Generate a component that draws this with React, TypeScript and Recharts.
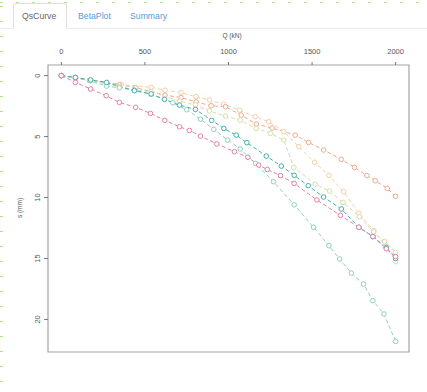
import { LineChart, Line, XAxis, YAxis, ReferenceArea } from 'recharts'

// load steps (kN) and settlements (mm) per test pile
const qPink = [0, 84, 175, 268, 347, 445, 533, 619, 707, 766, 832, 930, 1036, 1116, 1181, 1232, 1311, 1393, 1529, 1669, 1780, 1864, 1944, 2000]
const sPink = [0, 0.56, 1.1, 1.65, 2.2, 2.6, 3.1, 3.67, 4.2, 4.5, 4.96, 5.6, 6.24, 6.7, 7.34, 7.7, 8.2, 8.84, 10.2, 11.46, 12.44, 13.2, 14.2, 14.85]

const qTeal = [0, 84, 175, 271, 437, 537, 617, 707, 802, 900, 972, 1046, 1110, 1226, 1316, 1393, 1477, 1569, 1675, 1780, 1864, 1944, 2000]
const sTeal = [0, 0.15, 0.35, 0.56, 1.24, 1.5, 1.95, 2.42, 2.77, 3.67, 4.33, 4.88, 5.5, 6.6, 7.42, 8.18, 9.03, 9.96, 10.94, 12.44, 13.2, 14.1, 15.0]

const qMint = [0, 84, 168, 271, 347, 437, 537, 667, 750, 832, 912, 996, 1070, 1162, 1269, 1393, 1509, 1601, 1665, 1735, 1808, 1864, 1930, 2000]
const sMint = [0, 0.15, 0.42, 0.86, 1.0, 1.2, 1.54, 2.23, 2.8, 3.57, 4.41, 5.29, 6.02, 7.2, 8.7, 10.6, 12.44, 13.95, 15.04, 16.2, 17.1, 18.46, 19.55, 21.8]

const qLime = [0, 84, 175, 347, 437, 537, 707, 802, 886, 982, 1070, 1166, 1251, 1331, 1391, 1519, 1605, 1685, 1784, 1868, 1934, 2000]
const sLime = [0, 0.2, 0.4, 0.9, 1.2, 1.3, 2.1, 2.4, 2.9, 3.32, 3.65, 4.33, 4.74, 5.29, 7.53, 8.9, 9.47, 10.4, 11.57, 12.83, 13.6, 14.5]

const qSalmon = [0, 84, 175, 347, 445, 620, 716, 806, 896, 982, 1076, 1166, 1261, 1399, 1479, 1569, 1675, 1754, 1828, 1878, 1950, 2000]
const sSalmon = [0, 0.2, 0.4, 0.75, 1.0, 1.6, 1.8, 2.15, 2.47, 2.55, 3.24, 3.97, 4.3, 4.88, 5.48, 6.1, 6.87, 7.53, 8.2, 8.62, 9.25, 9.9]

const qPeach = [0, 84, 175, 357, 537, 620, 716, 806, 886, 970, 1066, 1160, 1241, 1331, 1421, 1515, 1601, 1689, 1780, 1870, 1940, 2000]
const sPeach = [0, 0.15, 0.35, 0.72, 0.97, 1.2, 1.4, 1.73, 2.0, 2.34, 2.83, 3.37, 3.78, 4.6, 5.83, 7.11, 8.18, 9.52, 11.3, 12.72, 14.0, 15.26]

const xTicks = [0, 500, 1000, 1500, 2000]
const yTicks = [0, 5, 10, 15, 20]
const tabs = ['QsCurve', 'BetaPlot', 'Summary']

const zip = (q: number[], s: number[]) => q.map((v, i) => ({ q: v, s: s[i] }))

const series = [
  { name: 'peach', data: zip(qPeach, sPeach), color: '#f4d0a6' },
  { name: 'salmon', data: zip(qSalmon, sSalmon), color: '#f0aa8e' },
  { name: 'lime', data: zip(qLime, sLime), color: '#d6dea6' },
  { name: 'mint', data: zip(qMint, sMint), color: '#8dd2bc' },
  { name: 'teal', data: zip(qTeal, sTeal), color: '#43b1b0' },
  { name: 'pink', data: zip(qPink, sPink), color: '#e282a4' },
]

const font = '"Liberation Sans", Arial, sans-serif'

const XTick = ({ x, y, payload }: any) => (
  <text x={x} y={y} textAnchor="middle" fontSize={7.5} fill="#555" fontFamily={font}>
    {payload.value}
  </text>
)

const YTick = ({ x, y, payload }: any) => (
  <text transform={`translate(${x},${y}) rotate(-90)`} textAnchor="middle" fontSize={7.5} fill="#555" fontFamily={font}>
    {payload.value}
  </text>
)

export default function App() {
  return (
    <div style={{ position: 'fixed', left: 0, top: 0, width: 427, height: 392, background: '#fff', overflow: 'hidden', fontFamily: font }}>
      <div style={{ position: 'absolute', left: 0, top: 2, width: 427, height: 1,
        background: 'repeating-linear-gradient(90deg, #b0e48a 0 3px, transparent 3px 16px)' }} />
      <div style={{ position: 'absolute', left: 0, top: 6, width: 3, height: 386,
        background: 'repeating-linear-gradient(180deg, #b0e48a 0 1px, transparent 1px 15px)' }} />

      {/* nav tabs */}
      <div style={{ position: 'absolute', left: 0, top: 28, width: 427, height: 1, background: '#ececec' }} />
      <div style={{ position: 'absolute', left: 13, top: 3, width: 52, height: 25, background: '#fff',
        border: '1px solid #e0e0e0', borderBottom: 'none', borderRadius: '3px 3px 0 0' }} />
      {tabs.map((t, i) => (
        <div key={t} style={{ position: 'absolute', top: 11, left: [22, 78, 130][i], fontSize: 8.7,
          color: i === 0 ? '#666' : '#5a9bd0' }}>{t}</div>
      ))}

      <div style={{ position: 'absolute', left: 212, top: 32, width: 40, textAlign: 'center', fontSize: 6.5, color: '#555' }}>
        Q (kN)
      </div>
      <div style={{ position: 'absolute', left: 19, top: 208, fontSize: 6.5, color: '#555',
        transform: 'translate(-50%, -50%) rotate(-90deg)', whiteSpace: 'nowrap' }}>
        s (mm)
      </div>

      <div style={{ position: 'absolute', left: 0, top: 0 }}>
        <LineChart width={427} height={392} margin={{ top: 45, left: 18, right: 18, bottom: 40 }}>
          <XAxis dataKey="q" type="number" orientation="top" domain={[-80, 2080]} ticks={xTicks}
            allowDataOverflow height={20} axisLine={false} tickSize={3} tickMargin={8}
            tickLine={{ stroke: '#777' }} tick={<XTick />} />
          <YAxis type="number" reversed domain={[-0.87, 22.67]} ticks={yTicks} allowDataOverflow
            width={30} axisLine={false} tickSize={4} tickMargin={4}
            tickLine={{ stroke: '#777' }} tick={<YTick />} />
          <ReferenceArea x1={-80} x2={2080} y1={-0.87} y2={22.67} fill="none" stroke="#a5a5a5" strokeWidth={1.2} ifOverflow="visible" />
          {series.map((sr) => (
            <Line key={sr.name} data={sr.data} dataKey="s" type="linear" stroke={sr.color} strokeWidth={1}
              strokeDasharray="4 2.5" isAnimationActive={false}
              dot={{ r: 2.3, stroke: sr.color, strokeWidth: 1, fill: '#fff', strokeDasharray: '' }} activeDot={false} />
          ))}
        </LineChart>
      </div>
    </div>
  )
}
